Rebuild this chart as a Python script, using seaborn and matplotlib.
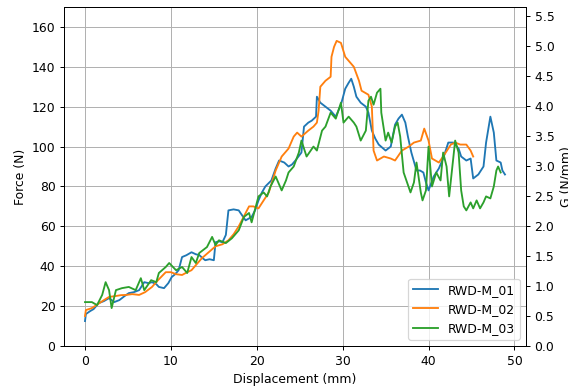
import matplotlib
matplotlib.use("Agg")
import matplotlib.pyplot as plt
import seaborn as sns
import pandas as pd

labels = ["RWD-M_01", "RWD-M_02", "RWD-M_03"]

x1 = [0.0, 0.1, 0.6, 1.0, 1.6, 2.2, 2.8, 3.4, 4.0, 4.6, 5.1, 5.7, 6.3, 6.9, 7.4, 7.8, 8.3, 8.6, 9.2, 9.7,
      10.1, 10.5, 10.9, 11.3, 11.8, 12.4, 12.9, 13.3, 13.7, 14.0, 14.5, 15.0, 15.2, 15.6, 16.0, 16.4, 16.7,
      17.3, 17.9, 18.1, 18.7, 19.4, 19.8, 20.2, 20.6, 21.0, 21.7, 22.2, 22.6, 23.2, 23.7, 24.1, 24.5, 25.2,
      25.5, 26.0, 26.4, 26.9, 27.0, 27.4, 28.0, 28.6, 29.2, 29.8, 30.3, 30.7, 31.0, 31.3, 31.6, 32.1, 32.7,
      33.0, 33.4, 33.8, 34.2, 35.0, 35.6, 36.1, 36.5, 36.9, 37.3, 37.6, 38.0, 38.6, 39.0, 39.4, 39.7, 40.0,
      40.6, 41.2, 41.7, 42.3, 42.9, 43.5, 43.8, 44.4, 44.9, 45.2, 45.8, 46.4, 46.7, 47.2, 47.6, 47.9, 48.4,
      48.6, 48.9]
f1 = [12.5, 16, 17.5, 18.5, 21.5, 22.5, 24, 22, 23, 25, 26.5, 27, 28, 32, 31.5, 32, 31, 29.6, 29, 31.5,
      34.6, 36, 38, 44.6, 45.5, 47, 46, 45.6, 44, 43, 43.5, 43, 52, 52.5, 52, 55.7, 68,
      68.5, 68, 66.7, 63, 64.7, 68, 73, 77, 80, 83, 89, 93, 92, 90, 91, 93, 97,
      110, 112, 113, 115, 125, 122, 120, 118, 115, 121, 129, 132, 134, 130, 125, 122, 120,
      117, 108, 104, 101, 98, 100, 111, 114, 116, 112, 105, 97, 88, 88, 87, 82, 78,
      85, 89, 94, 102, 102, 99, 95, 93, 94, 84, 86, 90, 102, 115, 107, 93, 92,
      88, 86]

x2 = [0.0, 0.1, 0.8, 1.5, 2.2, 2.8, 3.5, 4.2, 4.8, 5.5, 6.3, 7.0, 7.8, 8.5, 9.4, 10.0, 10.6, 11.3, 11.9,
      12.4, 13.0, 13.6, 14.4, 15.2, 16.0, 16.7, 17.3, 17.9, 18.5, 19.1, 19.6, 20.2, 20.8, 21.4, 22.2, 22.9,
      23.7, 24.3, 24.7, 25.2, 26.0, 26.6, 27.0, 27.2, 27.4, 28.0, 28.6, 28.7, 29.0, 29.3, 29.8, 30.3, 30.7,
      31.3, 31.9, 32.2, 33.0, 33.4, 33.6, 34.0, 34.8, 35.6, 36.1, 36.9, 37.7, 38.3, 39.1, 39.5, 40.0, 40.4,
      41.2, 41.7, 42.6, 43.1, 43.7, 44.4, 44.9, 45.2]
f2 = [15, 18, 19, 21, 23, 24.6, 25, 25.5, 25.6, 26, 25.6, 27, 29.6, 33, 37, 37, 36, 35.6, 37,
      38, 41, 44, 47, 50, 51, 53, 56, 60, 65, 70, 70, 69, 73, 77, 88, 95,
      99, 105, 107, 105, 108, 110, 112, 118, 130, 133, 135, 145, 150, 153, 152, 145, 143,
      140, 133, 128, 126, 120, 98, 93, 95, 94, 93, 98, 100, 102, 103, 109, 103, 94,
      92, 95, 101, 102, 101, 101, 98, 95]

x3 = [0.0, 0.8, 1.4, 2.0, 2.4, 2.8, 3.1, 3.6, 4.3, 5.1, 5.9, 6.5, 6.9, 7.7, 8.3, 8.6, 9.4, 9.8, 10.6,
      11.3, 11.9, 12.4, 12.9, 13.3, 14.2, 14.8, 15.2, 15.6, 16.4, 17.1, 17.9, 18.5, 19.1, 19.4, 20.2, 20.8,
      21.2, 21.6, 22.2, 22.9, 23.4, 23.7, 24.3, 24.9, 25.2, 25.8, 26.6, 27.0, 27.6, 28.0, 28.6, 29.2, 29.8,
      30.1, 30.7, 31.3, 31.6, 32.1, 32.7, 33.0, 33.3, 33.6, 34.0, 34.4, 34.5, 35.0, 35.3, 35.7, 36.1, 36.4,
      36.7, 37.1, 37.5, 37.9, 38.3, 38.6, 39.1, 39.3, 39.7, 40.0, 40.4, 40.9, 41.4, 41.7, 42.1, 42.4, 42.7,
      43.1, 43.5, 43.8, 44.1, 44.4, 44.9, 45.2, 45.6, 46.0, 46.4, 46.7, 47.2, 47.6, 47.9, 48.1, 48.4]
f3 = [22, 22, 20.5, 25.6, 32, 28, 19, 28, 29, 29.6, 28, 34, 28, 33, 32, 36.6, 39.6, 41.6, 38,
      39.6, 36.6, 44.6, 41.6, 46.6, 49.6, 54.7, 50.6, 53, 51.6, 54, 58, 64.7, 66.7, 62, 75, 77,
      75, 80, 85, 78, 83, 87, 90, 97, 103, 95, 100, 98, 108, 110, 117, 114, 122,
      112, 115, 112, 110, 103, 108, 123, 125, 121, 127, 129, 117, 103, 107, 102, 110, 112,
      105, 87, 82, 77, 82, 92, 77, 73, 78, 100, 80, 87, 83, 97, 90, 75, 87,
      103, 97, 78, 70, 68, 72, 69, 73, 69, 72, 75, 74, 80, 88, 90, 87]

df = pd.concat([
    pd.DataFrame({"Displacement": x1, "Force": f1, "Sample": labels[0]}),
    pd.DataFrame({"Displacement": x2, "Force": f2, "Sample": labels[1]}),
    pd.DataFrame({"Displacement": x3, "Force": f3, "Sample": labels[2]}),
], ignore_index=True)

width_mm = 30.1
f_top = 170

DPI = 88.75
fig = plt.figure(figsize=(568 / DPI, 387 / DPI), dpi=DPI)
ax = fig.add_axes([0.1127, 0.106, 0.8133, 0.876])
sns.lineplot(data=df, x="Displacement", y="Force", hue="Sample", palette="tab10",
             estimator=None, sort=False, linewidth=1.5, ax=ax)
ax.set_ylim(0, f_top)
ax.set_xlabel("Displacement (mm)")
ax.set_ylabel("Force (N)")
ax.grid(True, color="#b0b0b0", linewidth=0.8)
ax.legend(loc="lower right", title=None)

ax2 = ax.twinx()
ax2.set_ylim(0, f_top / width_mm)
ax2.set_yticks([0.0, 0.5, 1.0, 1.5, 2.0, 2.5, 3.0, 3.5, 4.0, 4.5, 5.0, 5.5])
ax2.set_ylabel("G (N/mm)")

fig.savefig("out.png", dpi=DPI)
